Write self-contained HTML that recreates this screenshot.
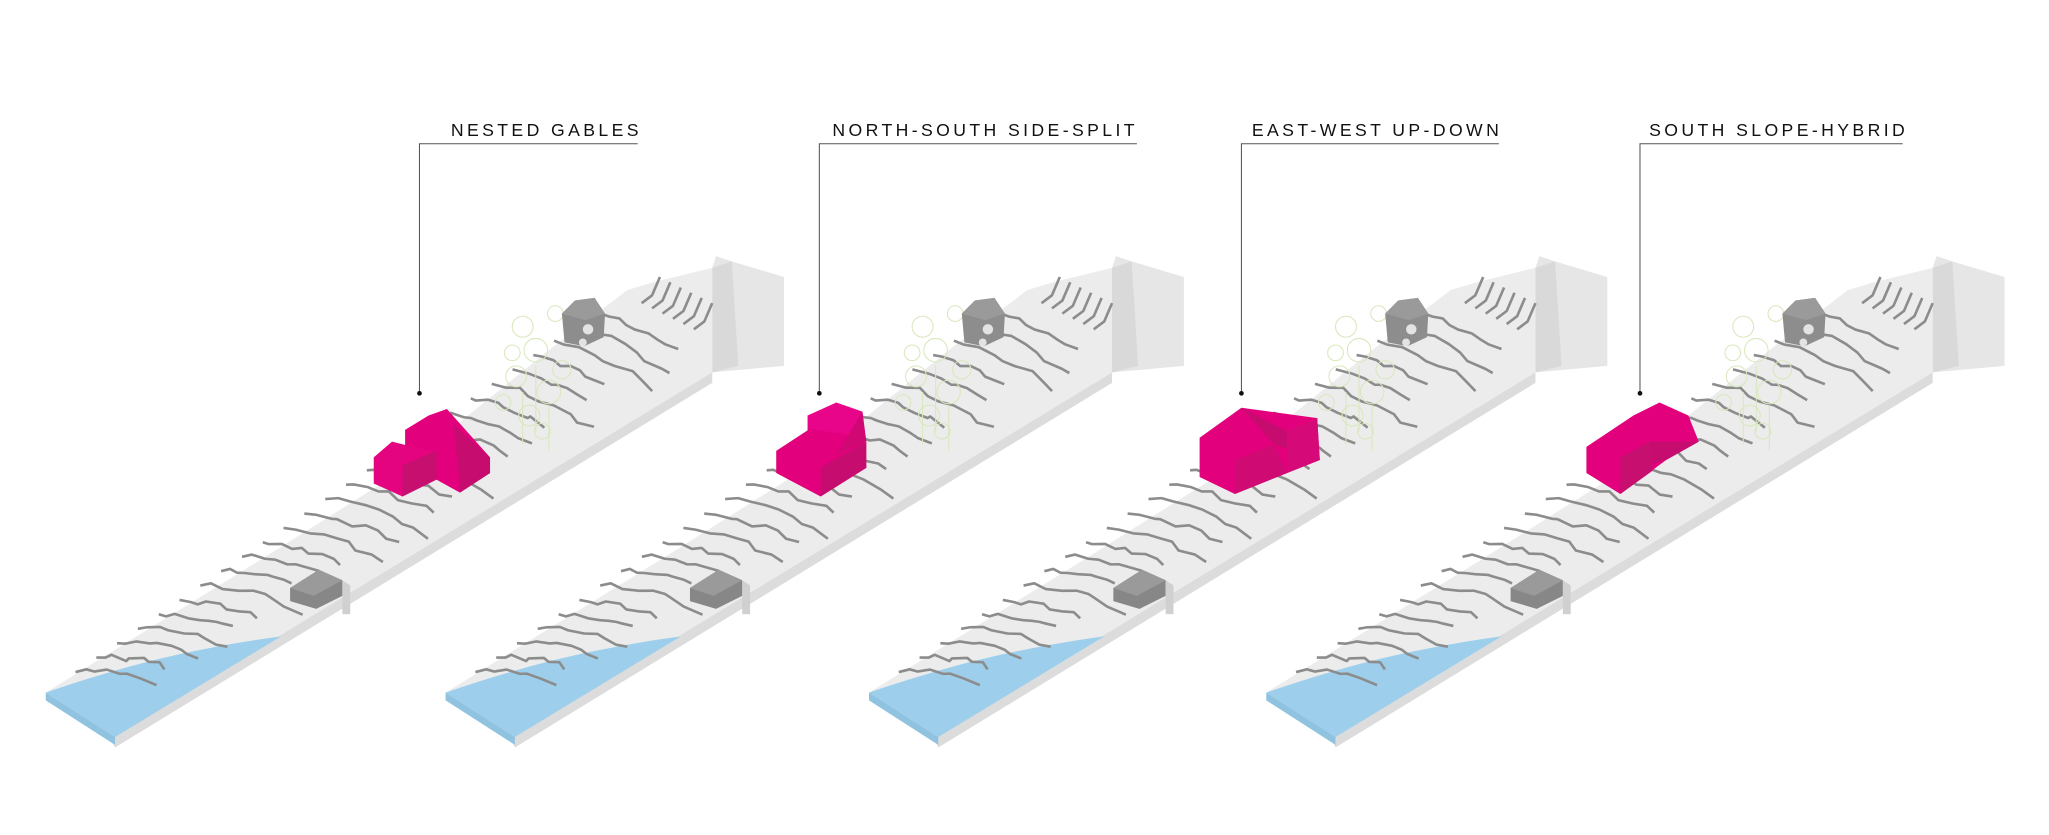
<!DOCTYPE html>
<html><head><meta charset="utf-8"><style>
html,body{margin:0;padding:0;background:#fff;width:2049px;height:835px;overflow:hidden}
svg{display:block}
text{font-family:"Liberation Sans",sans-serif;font-size:13.5px;letter-spacing:2.6px;fill:#111}
</style></head><body>
<svg id="s" width="2049" height="835" viewBox="0 0 1568 639" preserveAspectRatio="none" xmlns="http://www.w3.org/2000/svg">
<defs>
<g id="panel">
  <!-- end block -->
  <polygon points="545,205 548,196 560,200 600,212 600,280 545,285" fill="#e6e6e6"/>
  <polygon points="545,205 560,200 565,280 545,285" fill="#d9d9d9"/>
  <!-- top surface -->
  <polygon points="35,530 200,428 300,365 420,268 480,222 500,216 545,205 545,285 85,565" fill="#ececec"/>
  <!-- front side face -->
  <polygon points="85,565 545,285 545,293 88,572" fill="#dcdcdc"/>
  <!-- water -->
  <path d="M35,530 C70,518 110,506 150,498 C180,492 200,489 215,487 L88,564 Z" fill="#9dcfec"/>
  <polygon points="35,530 88,564 88,570 35,536" fill="#8fc3e0"/>
  <g id="contours" fill="none" stroke="#8c8c8c" stroke-width="2" stroke-linejoin="round"></g>
  <!-- trees -->
  <g fill="none" stroke="#d8e8bc" stroke-width="0.8">
    <circle cx="400" cy="250" r="8"/><circle cx="410" cy="268" r="9"/><circle cx="395" cy="288" r="8"/>
    <circle cx="420" cy="300" r="9"/><circle cx="405" cy="318" r="8"/><circle cx="430" cy="283" r="7"/>
    <circle cx="440" cy="255" r="7"/><circle cx="385" cy="308" r="6"/><circle cx="425" cy="240" r="6"/>
    <circle cx="392" cy="270" r="6"/><circle cx="415" cy="330" r="6"/>
    <line x1="400" y1="300" x2="400" y2="340"/><line x1="420" y1="310" x2="420" y2="345"/><line x1="410" y1="280" x2="410" y2="330"/>
  </g>
  <!-- upper grey building -->
  <polygon points="430,240 440,230 455,228 463,240 462,258 447,265 432,262" fill="#8d8d8d"/>
  <polygon points="430,240 440,230 455,228 463,240 448,245" fill="#9a9a9a"/>
  <g fill="#f2f2f2" opacity="0.85"><circle cx="450" cy="252" r="4"/><circle cx="446" cy="262" r="3"/></g>
  <!-- lower grey building -->
  <polygon points="222,450 244,436 262,444 262,456 242,466 222,460" fill="#878787"/>
  <polygon points="222,450 244,436 262,444 240,456" fill="#9a9a9a"/>
  <polygon points="262,444 268,448 268,470 262,470" fill="#d0d0d0"/>
</g>
</defs>
<use href="#panel" x="0"/>
<use href="#panel" x="306"/>
<use href="#panel" x="630"/>
<use href="#panel" x="934"/>

<!-- labels -->
<g stroke="#555" stroke-width="0.8" fill="none">
  <polyline points="488,110 321,110 321,300"/>
  <polyline points="870,110 627,110 627,300"/>
  <polyline points="1147,110 950,110 950,300"/>
  <polyline points="1456,110 1255,110 1255,300"/>
</g>
<g fill="#111"><circle cx="321" cy="301" r="1.8"/><circle cx="627" cy="301" r="1.8"/><circle cx="950" cy="301" r="1.8"/><circle cx="1255" cy="301" r="1.8"/></g>
<text x="345" y="104">NESTED GABLES</text>
<text x="637" y="104">NORTH-SOUTH SIDE-SPLIT</text>
<text x="958" y="104">EAST-WEST UP-DOWN</text>
<text x="1262" y="104">SOUTH SLOPE-HYBRID</text>

<!-- panel 1 house -->
<g>
  <polygon points="310,329 328,318 342,313 375,350 375,362 352,377 334,367 310,345" fill="#e2007d"/>
  <polygon points="347,325 375,350 375,362 352,377 350,352" fill="#c70c6f"/>
  <polygon points="286,350 300,338 316,342 334,345 334,367 308,380 286,370" fill="#e5047f"/>
  <polygon points="308,356 334,345 334,367 308,380" fill="#c60f6e"/>
</g>
<!-- panel 2 -->
<g>
  <polygon points="618,318 640,308 660,315 662,340 640,348 618,338" fill="#e8058a"/>
  <polygon points="594,345 620,328 660,335 663,358 628,380 594,362" fill="#e2007d"/>
  <polygon points="628,358 663,338 663,358 628,380" fill="#c70c6f"/>
  <polygon points="660,315 663,338 640,348" fill="#d00874"/>
</g>
<!-- panel 3 -->
<g>
  <polygon points="918,335 950,312 1008,320 1010,352 985,362 945,378 918,365" fill="#e2007d"/>
  <polygon points="950,312 985,330 1010,352 975,340" fill="#c70c6f"/>
  <polygon points="945,352 975,340 985,362 945,378" fill="#cf0a72"/>
  <polygon points="985,330 1008,320 1010,352 985,362" fill="#d50a78"/>
</g>
<!-- panel 4 -->
<g>
  <polygon points="1214,342 1250,318 1270,308 1292,318 1300,338 1275,352 1240,378 1214,362" fill="#e2007d"/>
  <polygon points="1262,338 1300,338 1275,352 1265,355" fill="#c70c6f"/>
  <polygon points="1240,350 1262,338 1265,360 1240,378" fill="#c60f6e"/>
</g>
</svg>
<script>
(function(){
  var g=document.getElementById('contours');
  var NS='http://www.w3.org/2000/svg';
  var seed=7;function r(){seed=(seed*9301+49297)%233280;return seed/233280;}
  function L(t){return [35+t*(490-35),530+t*(215-530)];}
  function R(t){return [85+t*(545-85),565+t*(285-565)];}
  var n=26;
  for(var i=0;i<n;i++){
    var t=0.05+i*(0.91/n);
    var a=L(t), b=R(t+0.07), depth=0.6+0.35*r();
    var d='M'+a[0].toFixed(1)+','+a[1].toFixed(1);
    var steps=8;
    for(var k=1;k<=steps;k++){
      var f=k/steps*depth;
      var x=a[0]+(b[0]-a[0])*f+(r()-0.5)*6;
      var y=a[1]+(b[1]-a[1])*f+(r()-0.5)*5 - Math.sin(f*3.1)*6;
      d+=' L'+x.toFixed(1)+','+y.toFixed(1);
    }
    var p=document.createElementNS(NS,'path');
    p.setAttribute('d',d);g.appendChild(p);
  }
  for(var j=0;j<6;j++){
    var x0=505+j*8,y0=212+j*4;
    var p2=document.createElementNS(NS,'path');
    p2.setAttribute('d','M'+x0+','+y0+' l-6,14 l-8,6');
    g.appendChild(p2);
  }
})();
</script>
</body></html>
